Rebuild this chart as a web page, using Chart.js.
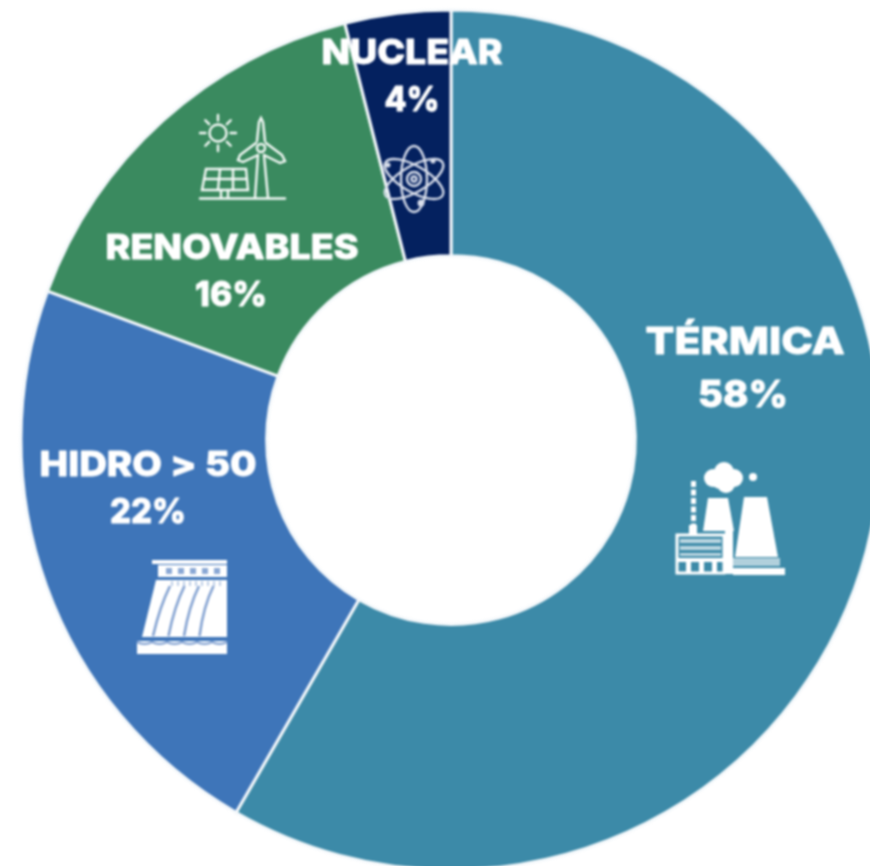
<!DOCTYPE html>
<html lang="es">
<head>
<meta charset="utf-8">
<title>Generación por fuente</title>
<script src="https://cdn.jsdelivr.net/npm/chart.js@4"></script>
<style>
html,body{margin:0;padding:0;width:870px;height:866px;overflow:hidden;background:#fff}
#wrap{position:absolute;left:0;top:0;width:870px;height:866px;overflow:hidden}
canvas{display:block;filter:blur(0.8px)}
</style>
</head>
<body>
<div id="wrap"><canvas id="c" width="902" height="880"></canvas></div>
<script>
const categories = ['TÉRMICA', 'HIDRO > 50', 'RENOVABLES', 'NUCLEAR'];
const percentLabels = ['58%', '22%', '16%', '4%'];
const sliceValues = [58.33, 22.3, 15.4, 3.97];
const sliceColors = ['#3c8aa8', '#3e75b9', '#3a8a5f', '#04215f'];

// label placement: [centre x, name baseline, value baseline, name width, value centre x, value width, font size]
const labelLayout = [
  [745, 354, 407, 199, 743, 90, 37],
  [148, 476, 523, 217, 148, 76, 34],
  [232, 259, 306, 253, 231, 72, 34],
  [412, 64, 111, 181, 412, 55, 34]
];

function stroke(ctx, pts, close) {
  ctx.beginPath();
  pts.forEach((p, i) => i ? ctx.lineTo(p[0], p[1]) : ctx.moveTo(p[0], p[1]));
  if (close) ctx.closePath();
  ctx.stroke();
}
function fillPoly(ctx, pts) {
  ctx.beginPath();
  pts.forEach((p, i) => i ? ctx.lineTo(p[0], p[1]) : ctx.moveTo(p[0], p[1]));
  ctx.closePath();
  ctx.fill();
}
function disc(ctx, x, y, r) {
  ctx.beginPath(); ctx.arc(x, y, r, 0, Math.PI * 2); ctx.fill();
}

function drawThermal(ctx) {
  ctx.fillStyle = '#fff'; ctx.strokeStyle = '#fff';
  [[713,478,9],[724,472,10],[734,478,9],[726,484,9],[720,480,9]].forEach(d => disc(ctx, d[0], d[1], d[2]));
  disc(ctx, 753, 477, 4);
  for (let y = 481; y < 526; y += 8.5) ctx.fillRect(691, y, 5, 6);
  ctx.fillRect(689, 525, 8, 9);
  fillPoly(ctx, [[708,498],[728,498],[734,531],[703,531]]);
  fillPoly(ctx, [[744,497],[767,497],[778,557],[735,557]]);
  ctx.lineWidth = 3;
  ctx.strokeRect(677, 535, 47, 38);
  ctx.fillRect(725, 527, 8, 47);
  ctx.fillStyle = 'rgba(255,255,255,.65)';
  ctx.fillRect(680, 539, 41, 4); ctx.fillRect(680, 546, 41, 4); ctx.fillRect(680, 553, 41, 3);
  ctx.fillStyle = '#fff';
  ctx.fillRect(678, 558, 46, 4);
  ctx.fillRect(686, 562, 5, 11); ctx.fillRect(699, 562, 5, 11); ctx.fillRect(712, 562, 5, 11);
  ctx.fillRect(733, 568, 52, 7);
  ctx.fillStyle = 'rgba(255,255,255,.6)';
  ctx.fillRect(733, 558, 47, 8);
}

function drawHydro(ctx) {
  ctx.fillStyle = '#fff';
  ctx.fillRect(152, 560, 75, 4);
  ctx.fillRect(158, 565, 69, 12);
  fillPoly(ctx, [[156,580],[227,580],[227,637],[142,637]]);
  ctx.fillRect(137, 641, 90, 13);
  ctx.fillStyle = '#8aa8d5';
  for (let i = 0; i < 5; i++) ctx.fillRect(166 + i * 12, 568, 6, 6);
  ctx.strokeStyle = '#7f9fd0'; ctx.lineWidth = 2.5;
  for (let i = 0; i < 4; i++) {
    ctx.beginPath();
    ctx.moveTo(170 + i * 14.5, 586);
    ctx.quadraticCurveTo(160 + i * 14.5, 606, 153 + i * 15.5, 636);
    ctx.stroke();
  }
  ctx.lineWidth = 1;
  for (let i = 0; i < 9; i++) stroke(ctx, [[172 + i * 6, 581],[172 + i * 6, 586]]);
  ctx.strokeStyle = '#7f9fd0'; ctx.lineWidth = 2;
  ctx.beginPath();
  ctx.moveTo(137, 642);
  for (let x = 137; x < 227; x += 15) ctx.quadraticCurveTo(x + 7.5, 646, x + 15, 642);
  ctx.stroke();
}

function drawRenewable(ctx) {
  ctx.strokeStyle = '#f4f9f6'; ctx.lineWidth = 2.4; ctx.lineCap = 'round';
  ctx.beginPath(); ctx.arc(218, 133, 8.5, 0, Math.PI * 2); ctx.stroke();
  for (let i = 0; i < 8; i++) {
    const a = i * Math.PI / 4, c = Math.cos(a), s = Math.sin(a);
    stroke(ctx, [[218 + 12.5 * c, 133 + 12.5 * s],[218 + 18 * c, 133 + 18 * s]]);
  }
  stroke(ctx, [[255,198],[258,155]]);
  stroke(ctx, [[268,198],[264,155]]);
  stroke(ctx, [[257,141],[259,122],[261,118],[263,122],[265,141]]);
  stroke(ctx, [[256,143],[240,155],[238,160],[243,162],[258,155]]);
  stroke(ctx, [[266,143],[282,155],[285,161],[280,163],[264,155]]);
  ctx.beginPath(); ctx.arc(261, 148, 4, 0, Math.PI * 2); ctx.stroke();
  stroke(ctx, [[206,169],[246,169],[248,190],[202,190]], true);
  stroke(ctx, [[204,179],[247,179]]);
  stroke(ctx, [[220,169],[218,190]]);
  stroke(ctx, [[233,169],[233,190]]);
  stroke(ctx, [[221,190],[221,198]]);
  stroke(ctx, [[228,190],[228,198]]);
  stroke(ctx, [[200,198.5],[285,198.5]]);
  ctx.lineCap = 'butt';
}

function drawAtom(ctx) {
  ctx.strokeStyle = '#d8deeb'; ctx.lineWidth = 2.4;
  [Math.PI / 2, Math.PI / 6, -Math.PI / 6].forEach(rot => {
    ctx.beginPath(); ctx.ellipse(414, 179, 33, 13, rot, 0, Math.PI * 2); ctx.stroke();
  });
  ctx.beginPath(); ctx.arc(414, 179, 7, 0, Math.PI * 2); ctx.stroke();
  ctx.beginPath(); ctx.arc(414, 179, 2.5, 0, Math.PI * 2); ctx.stroke();
  ctx.fillStyle = '#d8deeb';
  disc(ctx, 421, 203, 3.5);
  disc(ctx, 433, 161, 2.5);
  disc(ctx, 388, 165, 2.5);
}

function scaledText(ctx, text, x, y, width) {
  const natural = ctx.measureText(text).width;
  ctx.save();
  ctx.translate(x, y);
  ctx.scale(width / natural, 1);
  ctx.fillText(text, 0, 0);
  ctx.strokeText(text, 0, 0);
  ctx.restore();
}

const labelsAndIcons = {
  id: 'labelsAndIcons',
  afterDraw(chart) {
    const ctx = chart.ctx;
    ctx.save();
    drawThermal(ctx); drawHydro(ctx); drawRenewable(ctx); drawAtom(ctx);
    ctx.fillStyle = '#fff';
    ctx.strokeStyle = '#fff';
    ctx.lineWidth = 0.9;
    ctx.lineJoin = 'round';
    ctx.textBaseline = 'alphabetic';
    ctx.textAlign = 'center';
    categories.forEach((name, i) => {
      const [x, y1, y2, w, x2, w2, size] = labelLayout[i];
      ctx.font = '800 ' + size + 'px Inter, "Open Sans", sans-serif';
      scaledText(ctx, name, x, y1, w);
      scaledText(ctx, percentLabels[i], x2, y2, w2);
    });
    ctx.restore();
  }
};

new Chart(document.getElementById('c'), {
  type: 'doughnut',
  data: {
    labels: categories,
    datasets: [{
      data: sliceValues,
      backgroundColor: sliceColors,
      borderColor: '#f4f8fb',
      borderWidth: 3,
      hoverOffset: 0
    }]
  },
  plugins: [labelsAndIcons],
  options: {
    responsive: false,
    animation: false,
    radius: 430,
    cutout: 188,
    rotation: 0,
    layout: { padding: 0 },
    plugins: { legend: { display: false }, tooltip: { enabled: false } }
  }
});
</script>
</body>
</html>
